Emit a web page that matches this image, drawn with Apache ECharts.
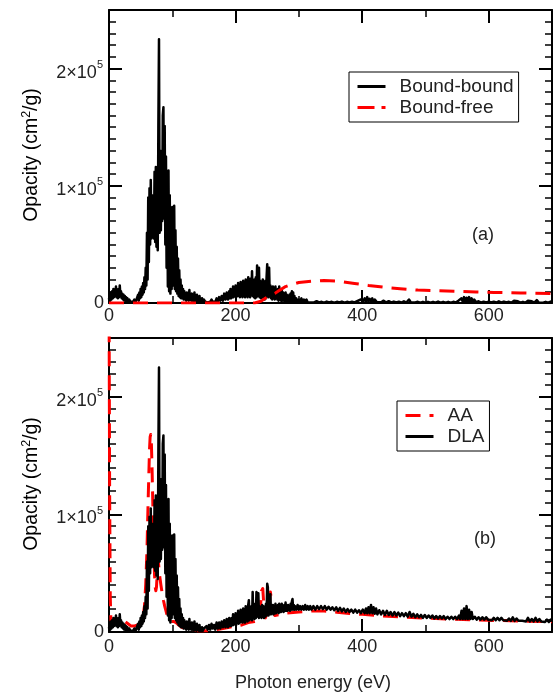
<!DOCTYPE html>
<html>
<head>
<meta charset="utf-8">
<script src="https://cdn.jsdelivr.net/npm/echarts@6/dist/echarts.min.js"></script>
<style>
  html, body { margin: 0; padding: 0; background: #fff; }
  #chart { width: 555px; height: 696px; }
</style>
</head>
<body>
<div id="chart"></div>
<script>
// Opacity values are listed in units of 10^3 cm^2/g, energies in eV.
const K = 1000;

// Bound-bound line spectrum below 150 eV (identical in both panels)
const lowEnergyLines = [
  [0,3],[1,7],[2,2],[3,9],[4,3],[5,10],[6,4],[7,12],[8,5],[9,11],[10,6],[11,14],[12,5],[13,10],[14,4],[15,12],
  [16,5],[17,15],[18,6],[19,10],[20,4],[21,8],[22,3],[23,7],[24,2],[25,6],[26,2],[27,5],[28,1],[29,4],[30,1],
  [32,3],[34,1],[36,2],[38,1],[40,3],[42,1],[44,4],
  [45,3],[46,7],[47,2],[48,9],[49,4],[50,12],[51,5],[52,14],[53,7],[54,17],[55,9],[56,22],[57,12],[58,30],[59,15],
  [60,60],[61,20],[62,90],[63,35],[64,98],[65,50],[66,105],[67,55],[68,92],[69,56],[70,85],[71,55],[72,112],[73,52],
  [74,116],[75,48],[76,108],[77,45],[78,150],[79,225],[80,60],[81,130],[82,62],[83,118],[84,70],[85,160],[86,167],
  [87,72],[88,151],[89,50],[90,125],[91,30],[92,105],[93,14],[94,113],[95,10],[96,92],[97,8],[98,78],[99,12],
  [100,82],[101,15],[102,70],[103,83],[104,12],[105,62],[106,10],[107,48],[108,8],[109,38],[110,6],[111,28],[112,5],
  [113,20],[114,4],[115,15],[116,4],[117,12],[118,3],[119,10],[120,3],[121,8],
  [122,2],[123,9],[124,3],[125,7],[126,2],[127,11],[128,3],[129,6],[130,2],[131,8],[132,2],[133,5],[134,1],[135,9],
  [136,2],[137,5],[138,1],[139,7],[140,2],[141,4],[142,1],[143,6],[144,1],[145,3],[146,1],[147,4],[148,1],[150,3]
];

// Panel (a): bound-bound above 150 eV
const boundBoundHigh = [
  [152,1],[154,2],[156,0.5],[158,2],[160,1],[162,3],[164,1],[166,2],[168,1],[170,4],[172,1],[174,5],[176,2],[178,6],
  [180,2],[182,8],[184,3],[186,9],[188,3],[190,10],
  [191,4],[192,12],[193,4],[194,11],[195,5],[196,14],[197,5],[198,13],[199,6],[200,15],[201,5],[202,14],[203,6],
  [204,17],[205,6],[206,15],[207,5],[208,18],[209,7],[210,16],[211,5],[212,19],[213,6],[214,17],[215,5],[216,20],
  [217,7],[218,18],[219,5],[220,22],[221,6],[222,19],[223,5],[224,21],[225,7],[226,27],[227,6],[228,18],[229,5],
  [230,20],[231,4],[232,22],[233,5],[234,32],[235,33],[236,6],[237,30],[238,5],[239,19],[240,4],[241,18],[242,5],
  [243,20],[244,4],[245,17],[246,3],[247,19],[248,4],[249,22],[250,33],[251,34],[252,5],[253,30],[254,6],[255,15],
  [256,4],[257,13],[258,3],[259,14],[260,4],[261,12],[262,3],[263,14],[264,4],[265,11],[266,3],[267,12],[268,2],
  [269,14],[270,3],[271,10],[272,2],[273,11],[274,2],[275,9],[276,2],[277,8],[278,1],[279,9],[280,2],[281,7],
  [282,1],[283,6],[284,2],[285,7],[286,1],[287,8],[288,2],[289,10],[290,1],[291,9],[292,2],[293,6],[294,1],
  [296,4],[298,1],[300,3],[302,1],[304,4],[306,1],[308,3],[310,1],[312,3],[314,0.5],[316,2],[318,0.5],[320,2],
  [324,0.5],[328,1.5],[332,0.5],[336,1],[340,0.3],[344,1.2],[348,0.4],[352,1],[356,0.3],[360,1],[364,0.4],
  [368,1.2],[372,0.3],[376,1],[380,0.4],[384,1],[388,0.5],[392,1.5],[395,0.5],[398,3],[401,1],[404,4],[406,1],
  [408,5],[410,1.5],[412,3.5],[414,1],[416,4],[418,1],[420,3],[423,0.8],[426,2.5],[430,0.6],[434,2],[438,0.5],
  [442,1.5],[446,0.5],[450,1.2],[454,0.4],[458,1],[462,0.4],[466,1.5],[470,0.4],[474,3],[477,0.5],[480,1.2],
  [484,0.4],[488,1],[492,0.3],[496,1],[500,0.3],[504,1],[508,0.3],[512,1],[516,0.3],[520,1.2],[524,0.3],[528,1],
  [532,0.3],[536,1],[540,0.3],[544,1],[548,0.5],[552,2],[555,0.6],[557,4],[559,1],[561,5],[563,1],[565,4.5],
  [567,1],[569,5],[571,1],[573,4],[575,1],[577,3],[580,0.6],[584,1.5],[588,0.4],[592,1],[596,0.4],[600,1.2],
  [604,0.4],[608,1],[612,0.4],[616,1.5],[620,0.4],[624,1.2],[628,0.4],[632,1],[636,0.3],[640,2],[643,0.4],
  [646,1.5],[650,0.3],[654,1],[658,0.3],[662,2],[665,0.4],[668,1.5],[672,0.3],[676,2.5],[679,0.4],[682,1.5],
  [686,0.3],[690,1],[694,0.3],[698,1.2],[700,0.4]
];

// Panel (a): bound-free (photoionization) opacity
const boundFree = [
  [0,0],[230,0],[240,1.5],[247,4],[255,6.5],[263,8.5],[270,11],[279,14],[290,16],[300,17.5],[320,18.5],
  [340,19.2],[360,18.8],[388,16.7],[410,15],[435,13.4],[460,12.2],[488,11],[520,10.4],[545,10],[580,9.4],
  [608,9],[650,8.6],[700,8.1]
];

// Panel (b): DLA total opacity above 150 eV
const dlaHigh = [
  [152,2],[154,5],[156,2],[158,6],[160,2],[162,7],[164,3],[166,6],[168,2],[170,8],[172,3],[174,8],[176,3],[178,9],
  [180,4],[182,10],[184,4],[186,11],[188,4],[190,12],
  [191,5],[192,11],[193,5],[194,12],[195,6],[196,15],[197,6],[198,13],[199,7],[200,16],[201,6],[202,15],[203,8],
  [204,18],[205,7],[206,16],[207,8],[208,19],[209,9],[210,18],[211,8],[212,20],[213,9],[214,19],[215,8],[216,22],
  [217,10],[218,20],[219,9],[220,23],[221,27],[222,10],[223,21],[224,11],[225,22],[226,10],[227,34],[228,12],
  [229,22],[230,11],[231,24],[232,12],[233,34],[234,13],[235,23],[236,33],[237,12],[238,22],[239,13],[240,21],
  [241,12],[242,23],[243,13],[244,22],[245,12],[246,21],[247,13],[248,24],[249,14],[250,41],[251,38],[252,14],
  [253,30],[254,15],[255,32],[256,15],[257,22],[258,16],[259,23],[260,15],[261,22],[262,16],[263,24],[264,16],
  [265,22],[266,17],[267,23],[268,16],[269,24],[270,17],[271,22],[272,17],[273,24],[274,18],[275,22],[276,17],
  [277,23],[278,18],[279,25],[280,18],[281,22],[282,18],[283,23],[284,19],[285,22],[286,18],[287,24],[288,19],
  [289,26],[290,28],[291,19],[292,23],[293,19],[294,22],[296,19],[298,23],[300,19],[302,22],[304,19],[306,22],
  [308,19],[310,23],[312,19],[314,22],[316,19],[318,22],[320,19],[323,22],[326,19],[329,22],[332,19.5],[335,22],
  [338,19.5],[341,22],[344,19],[347,21.5],[350,19],[353,21],[356,18.5],[359,21],[362,18],[365,20.5],[368,17.5],
  [371,20],[374,17],[377,19.5],[380,17],[383,19],[386,16.5],[389,19],[392,16.5],[395,18.5],[398,16],[401,19],
  [404,16],[406,20],[408,16],[410,21],[412,16],[414,23],[416,16],[418,21],[420,15.5],[422,20],[424,15],[427,18.5],
  [430,15],[433,18],[436,14.5],[439,18],[442,14.5],[445,17],[448,14],[451,17],[454,14],[457,16.5],[460,13.5],
  [463,16],[466,13.5],[469,16],[472,13],[475,17],[478,13],[481,15.5],[484,12.5],[487,15],[490,12.5],[493,14.5],
  [496,12],[499,14.5],[502,12],[505,14],[508,12],[511,14],[514,11.5],[517,13.5],[520,11.5],[523,13.5],[526,11.5],
  [529,13.5],[532,11],[535,13],[538,11],[541,13],[544,11],[547,13],[550,11],[553,14],[555,11],[557,18],[559,11],
  [561,20],[563,11],[565,22],[567,11],[569,19],[571,11],[573,17],[575,11],[578,13],[581,10.5],[584,12.5],
  [587,10.5],[590,12.5],[593,10.5],[596,12.5],[599,10.5],[602,12],[605,10],[608,12],[611,10],[614,12],[617,10],
  [620,12],[623,10],[626,11.5],[629,9.5],[632,11.5],[635,9.5],[638,12.5],[641,9.5],[644,11.5],[647,9.5],[650,11],
  [653,9.5],[656,11],[659,9],[662,12],[665,9],[668,11],[671,9],[674,12],[677,9],[680,11],[683,9],[686,10.5],
  [689,8.5],[692,10.5],[695,8.5],[698,10.5],[700,9]
];

// Panel (b): average-atom (AA) opacity
const averageAtom = [
  [0,300],[1,120],[2,30],[3,10],[5,8],[8,10],[12,11],[16,12],[20,11],[25,9],[30,7],[35,5],[40,5],[45,6],[50,7],
  [53,10],[56,22],[58,40],[60,70],[62,115],[64,155],[65,166],[66,168],[67,160],[68,140],[69,115],[70,90],[71,65],
  [72,48],[73,38],[74,35],[75,38],[76,48],[77,58],[78,60],[79,54],[80,48],[82,40],[84,33],[86,27],[88,22],[90,18],
  [92,14],[94,11],[96,9],[98,8],[102,9],[106,8],[110,6],[115,4],[120,3],[130,2],[140,1],[150,1],[160,1],[170,2],
  [180,3],[190,4],[200,5],[210,6],[220,8],[230,9],[236,10],[239,18],[241,35],[243,37],[245,20],[247,12],[250,12],
  [253,20],[255,34],[257,35],[259,18],[262,14],[270,15],[280,16],[300,17],[320,17.8],[340,17.8],[360,16.8],
  [380,15.8],[400,15],[430,13.8],[460,12.8],[500,11.8],[550,10.8],[600,10],[650,9.3],[700,8.7]
];

const xTicks = [0, 200, 400, 600];
const yTicks = [0, 100000, 200000];

const boundBound = lowEnergyLines.concat(boundBoundHigh);
const dla = lowEnergyLines.concat(dlaHigh);
const toXY = arr => arr.map(p => [p[0], p[1] * K]);

const FONT = 'Liberation Sans, Arial, sans-serif';
const INK = '#222';
const RED = '#ff0000';

// rich styles: plain text, mantissa of a power label, superscript, axis-title pieces
const rich = {
  n: { fontSize: 18, fontFamily: FONT, color: INK },
  m: { fontSize: 18, fontFamily: FONT, color: INK, verticalAlign: 'bottom', padding: [8, 0, 0, 0] },
  s: { fontSize: 11, fontFamily: FONT, color: INK, verticalAlign: 'bottom', padding: [0, 1, 11, 0] },
  t: { fontSize: 12.5, fontFamily: FONT, color: INK, verticalAlign: 'bottom', padding: [0, 0, 8, 0] },
  q: { fontSize: 19.5, fontFamily: FONT, color: INK, verticalAlign: 'bottom' }
};

function yLabel(v) {
  if (v === 0) return '{n|0}';
  if (yTicks.indexOf(v) >= 0) return '{m|' + (v / 100000) + '×10}{s|5}';
  return '';
}

const grids = [
  { left: 109, top: 10, width: 445, height: 293 },
  { left: 109, top: 338, width: 445, height: 294 }
];

// frame lines stay on their own edge (no snapping to the zero of the other axis)
const FRAME = { show: true, onZero: false, lineStyle: { color: '#000', width: 2 } };
const NO_LINE = { show: false, onZero: false };
const majorTick = { show: true, inside: true, length: 13, lineStyle: { color: '#000', width: 2 } };
const minorTick = { show: true, inside: true, length: 7, lineStyle: { color: '#000', width: 1.5 } };

// Each edge carries a major axis (frame line, ticks, labels on bottom/left)
// and a minor axis (short ticks only).
const xAxes = [], yAxes = [];
grids.forEach((g, gi) => {
  const xBase = { type: 'value', gridIndex: gi, min: 0, max: 700, splitLine: { show: false } };
  const xLabel = { margin: gi === 0 ? 4 : 6, fontSize: 18, fontFamily: FONT, color: INK,
    formatter: v => xTicks.indexOf(v) >= 0 ? String(v) : '' };
  ['bottom', 'top'].forEach(pos => {
    xAxes.push(Object.assign({}, xBase, { position: pos, interval: 200, axisLine: FRAME, axisTick: majorTick,
      axisLabel: pos === 'bottom' ? xLabel : { show: false } }));
    xAxes.push(Object.assign({}, xBase, { position: pos, interval: 100, axisLine: NO_LINE, axisTick: minorTick,
      axisLabel: { show: false } }));
  });

  const yBase = { type: 'value', gridIndex: gi, min: 0, max: 250000, splitLine: { show: false } };
  const yLabelOpt = { margin: 5, formatter: yLabel, rich: rich };
  ['left', 'right'].forEach(pos => {
    yAxes.push(Object.assign({}, yBase, { position: pos, interval: 100000, axisLine: FRAME, axisTick: majorTick,
      axisLabel: pos === 'left' ? yLabelOpt : { show: false } }));
    yAxes.push(Object.assign({}, yBase, { position: pos, interval: 10000, axisLine: NO_LINE, axisTick: minorTick,
      axisLabel: { show: false } }));
  });
});

function lineSeries(name, data, gi, color, width, type) {
  return {
    name: name, type: 'line', xAxisIndex: gi * 4, yAxisIndex: gi * 4,
    data: toXY(data), symbol: 'none', showSymbol: false, sampling: null,
    lineStyle: { color: color, width: width, type: type, join: 'round' },
    itemStyle: { color: color },
    clip: true, silent: true
  };
}

const legendBase = {
  orient: 'vertical', itemWidth: 28, itemHeight: 12, itemGap: 2,
  borderColor: '#000', borderWidth: 1, borderRadius: 0, backgroundColor: '#fff',
  padding: [5, 5, 5, 7], selectedMode: false,
  itemStyle: { opacity: 0 },
  textStyle: { fontSize: 19, fontFamily: FONT, color: INK, padding: [0, 0, 0, 9] }
};

const option = {
  animation: false,
  grid: grids,
  xAxis: xAxes,
  yAxis: yAxes,
  legend: [
    Object.assign({}, legendBase, {
      left: 349, top: 72,
      data: [
        { name: 'Bound-bound', lineStyle: { width: 3, type: 'solid' } },
        { name: 'Bound-free', lineStyle: { width: 3, type: [17, 7, 4, 30] } }
      ]
    }),
    Object.assign({}, legendBase, {
      left: 397, top: 401,
      data: [
        { name: 'AA', lineStyle: { width: 3, type: [15, 9, 4, 30] } },
        { name: 'DLA', lineStyle: { width: 3, type: 'solid' } }
      ]
    })
  ],
  series: [
    lineSeries('Bound-bound', boundBound, 0, '#000', 2.5, 'solid'),
    lineSeries('Bound-free', boundFree, 0, RED, 3, [15, 9]),
    lineSeries('AA', averageAtom, 1, RED, 3, [15, 9]),
    lineSeries('DLA', dla, 1, '#000', 2.5, 'solid')
  ],
  graphic: [
    { type: 'text', x: 31, y: 155, rotation: Math.PI / 2,
      style: { text: '{q|Opacity (cm}{t|2}{q|/g)}', rich: rich, align: 'center', verticalAlign: 'middle' } },
    { type: 'text', x: 31, y: 484, rotation: Math.PI / 2,
      style: { text: '{q|Opacity (cm}{t|2}{q|/g)}', rich: rich, align: 'center', verticalAlign: 'middle' } },
    { type: 'text', x: 313, y: 683,
      style: { text: 'Photon energy (eV)', fontSize: 18, fontFamily: FONT, fill: INK, align: 'center', verticalAlign: 'middle' } },
    { type: 'text', x: 483, y: 235,
      style: { text: '(a)', fontSize: 18, fontFamily: FONT, fill: INK, align: 'center', verticalAlign: 'middle' } },
    { type: 'text', x: 485, y: 539,
      style: { text: '(b)', fontSize: 18, fontFamily: FONT, fill: INK, align: 'center', verticalAlign: 'middle' } }
  ]
};

const chart = echarts.init(document.getElementById('chart'), null, { renderer: 'canvas' });
chart.setOption(option);
</script>
</body>
</html>
